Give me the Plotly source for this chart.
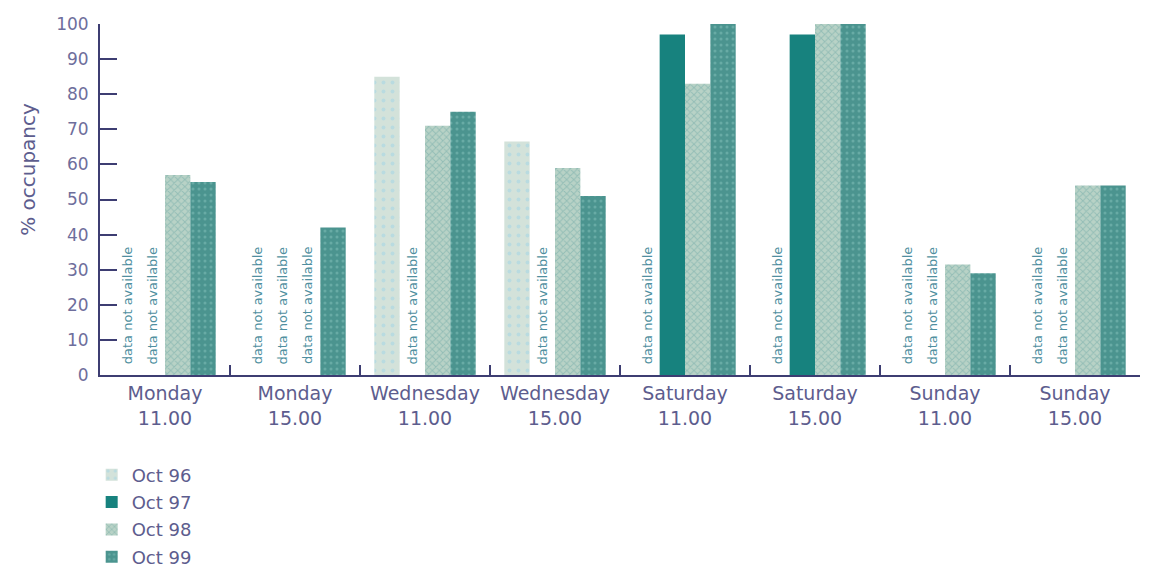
import plotly.graph_objects as go

# Survey slots (day and time) along the x axis
categories = ["Monday<br>11.00", "Monday<br>15.00", "Wednesday<br>11.00", "Wednesday<br>15.00",
              "Saturday<br>11.00", "Saturday<br>15.00", "Sunday<br>11.00", "Sunday<br>15.00"]

# % occupancy per survey; None = data not available
oct96 = [None, None, 85, 66.5, None, None, None, None]
oct97 = [None, None, None, None, 97, 97, None, None]
oct98 = [57, None, 71, 59, 83, 100, 31.5, 54]
oct99 = [55, 42, 75, 51, 100, 100, 29, 54]

y_ticks = [0, 10, 20, 30, 40, 50, 60, 70, 80, 90, 100]
missing_label = "data not available"

series = [
    ("Oct 96", oct96, dict(color="#d3e2da", pattern=dict(shape=".", fgcolor="#9fd3e6", bgcolor="#d3e2da", size=9, solidity=0.15))),
    ("Oct 97", oct97, dict(color="#17827e")),
    ("Oct 98", oct98, dict(color="#a6c8bd", pattern=dict(shape="x", fgcolor="#6fa8a6", bgcolor="#b8d2c6", size=5, solidity=0.35))),
    ("Oct 99", oct99, dict(color="#4f9792", pattern=dict(shape=".", fgcolor="#86c2bb", bgcolor="#4b948f", size=6, solidity=0.2))),
]

axis_col = "#3d3d72"
text_col = "#5d5d8e"
font_family = "DejaVu Sans"

fig = go.Figure()
for name, vals, marker in series:
    fig.add_trace(go.Bar(
        name=name, x=categories, y=vals, legendgroup=name,
        marker=dict(line=dict(width=0), **marker),
    ))

# Rotated notes where a survey has no data
n_series = len(series)
bargap = 0.22
bar_w = (1 - bargap) / n_series
annotations = []
for j, (_, vals, _) in enumerate(series):
    for i, v in enumerate(vals):
        if v is None:
            annotations.append(dict(
                x=i + (j - (n_series - 1) / 2) * bar_w, y=2.5, xref="x", yref="y",
                text=missing_label, showarrow=False, textangle=-90,
                xanchor="center", yanchor="bottom",
                font=dict(family=font_family, size=13, color="#4f8fa0"),
            ))

annotations.append(dict(
    x=-0.07, y=0.585, xref="paper", yref="paper", text="% occupancy",
    showarrow=False, textangle=-90, xanchor="center", yanchor="middle",
    font=dict(family=font_family, size=20, color=text_col),
))

fig.update_layout(
    width=1149, height=568,
    margin=dict(l=100, r=9, t=24, b=193, autoexpand=False),
    paper_bgcolor="white", plot_bgcolor="white",
    barmode="group", bargap=bargap, bargroupgap=0,
    font=dict(family=font_family, color=text_col),
    annotations=annotations,
    showlegend=True,
    legend=dict(
        x=-0.008, y=-0.232, xanchor="left", yanchor="top",
        traceorder="grouped", tracegroupgap=1,
        font=dict(family=font_family, size=18, color=text_col),
        bgcolor="rgba(0,0,0,0)",
    ),
    xaxis=dict(
        type="category", showgrid=False, showline=True, linecolor=axis_col, linewidth=2,
        ticks="inside", tickson="boundaries", ticklen=10, tickcolor=axis_col, tickwidth=2,
        tickfont=dict(family=font_family, size=19, color=text_col),
        zeroline=False, fixedrange=True,
    ),
    yaxis=dict(
        range=[0, 100], tickvals=y_ticks, showgrid=False, showline=True,
        linecolor=axis_col, linewidth=2, ticks="inside", ticklen=17, tickcolor=axis_col,
        tickwidth=2, tickfont=dict(family=font_family, size=17, color="#6e6e9c"),
        ticklabelstandoff=6, zeroline=False, fixedrange=True,
    ),
)

fig.write_html("out.html")
